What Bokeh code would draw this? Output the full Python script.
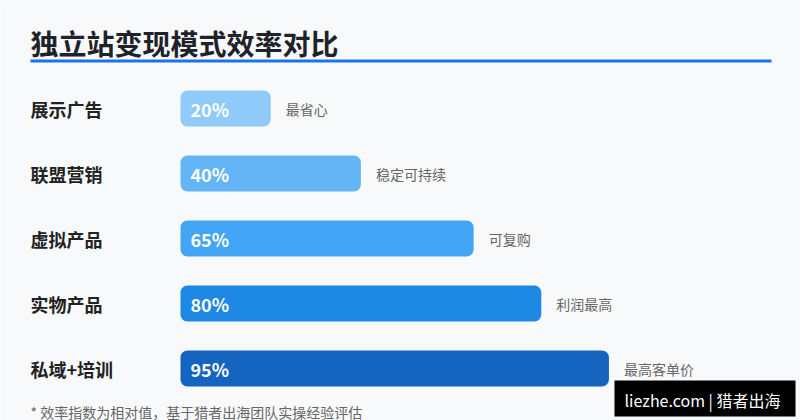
from bokeh.plotting import figure
from bokeh.models import Range1d, ColumnDataSource, Label
from bokeh.core.properties import value
from bokeh.embed import file_html
from bokeh.resources import INLINE

# ---- data ----
categories = ["展示广告", "联盟营销", "虚拟产品", "实物产品", "私域+培训"]
efficiency = [20, 40, 65, 80, 95]
value_labels = ["20%", "40%", "65%", "80%", "95%"]
notes = ["最省心", "稳定可持续", "可复购", "利润最高", "最高客单价"]
bar_colors = ["#90CAF9", "#64B5F6", "#42A5F5", "#1E88E5", "#1565C0"]
title_text = "独立站变现模式效率对比"
footnote_text = "* 效率指数为相对值，基于猎者出海团队实操经验评估"
watermark_text = "liezhe.com | 猎者出海"

FONT_NAME = "Noto Sans CJK SC"
FONT = value(FONT_NAME)
BG = "#F8F9FB"

W, H = 800, 420
PX_PER_PCT = 4.51      # horizontal pixels per percent
BAR_X0 = 180           # x of bar origin
ROW0 = 108             # y of first row centre
ROW_STEP = 65          # pixels between rows


def sx(px):
    return (px - BAR_X0) / PX_PER_PCT


def sy(py):
    return (py - ROW0) / ROW_STEP


p = figure(width=W, height=H, output_backend="svg", toolbar_location=None,
           x_range=Range1d(sx(0), sx(W)),
           y_range=Range1d(sy(H), sy(0)),
           min_border=0, background_fill_color=BG, border_fill_color=BG,
           outline_line_color=None)
p.axis.visible = False
p.grid.visible = False

idx = list(range(len(categories)))
src = ColumnDataSource(dict(idx=idx, cat=categories, val=efficiency,
                            lab=value_labels, note=notes, color=bar_colors))

p.hbar(y="idx", left=0, right="val", height=36 / ROW_STEP, fill_color="color",
       line_color=None, border_radius=7, source=src)

# category labels
p.text(x=0, y="idx", text="cat", x_offset=30 - BAR_X0, source=src,
       text_font=FONT, text_font_size="18px", text_font_style="bold",
       text_color="#222222", text_baseline="middle", text_align="left")
# value labels inside bars
p.text(x=0, y="idx", text="lab", x_offset=10, source=src,
       text_font=FONT, text_font_size="18px", text_font_style="bold",
       text_color="#FFFFFF", text_baseline="middle", text_align="left")
# notes after bars
p.text(x="val", y="idx", text="note", x_offset=15, source=src,
       text_font=FONT, text_font_size="14px",
       text_color="#666666", text_baseline="middle", text_align="left")

# title and underline
p.add_layout(Label(x=sx(30), y=sy(42), text=title_text, text_font=FONT_NAME,
                   text_font_size="28px", text_font_style="bold",
                   text_color="#1F2329", text_baseline="middle"))
p.segment(x0=[sx(30)], y0=[sy(60.5)], x1=[sx(771)], y1=[sy(60.5)],
          line_color="#1A73E8", line_width=3)

# footnote
p.add_layout(Label(x=sx(30), y=sy(411), text=footnote_text, text_font=FONT_NAME,
                   text_font_size="14px", text_color="#666666",
                   text_baseline="middle"))

# watermark
p.quad(left=[sx(614)], right=[sx(795)], top=[sy(380)], bottom=[sy(416)],
       fill_color="#000000", line_color=None)
p.add_layout(Label(x=sx(624), y=sy(399), text=watermark_text, text_font=FONT_NAME,
                   text_font_size="16px", text_color="#FFFFFF",
                   text_baseline="middle"))

open("out.html", "w").write(file_html(p, INLINE))
